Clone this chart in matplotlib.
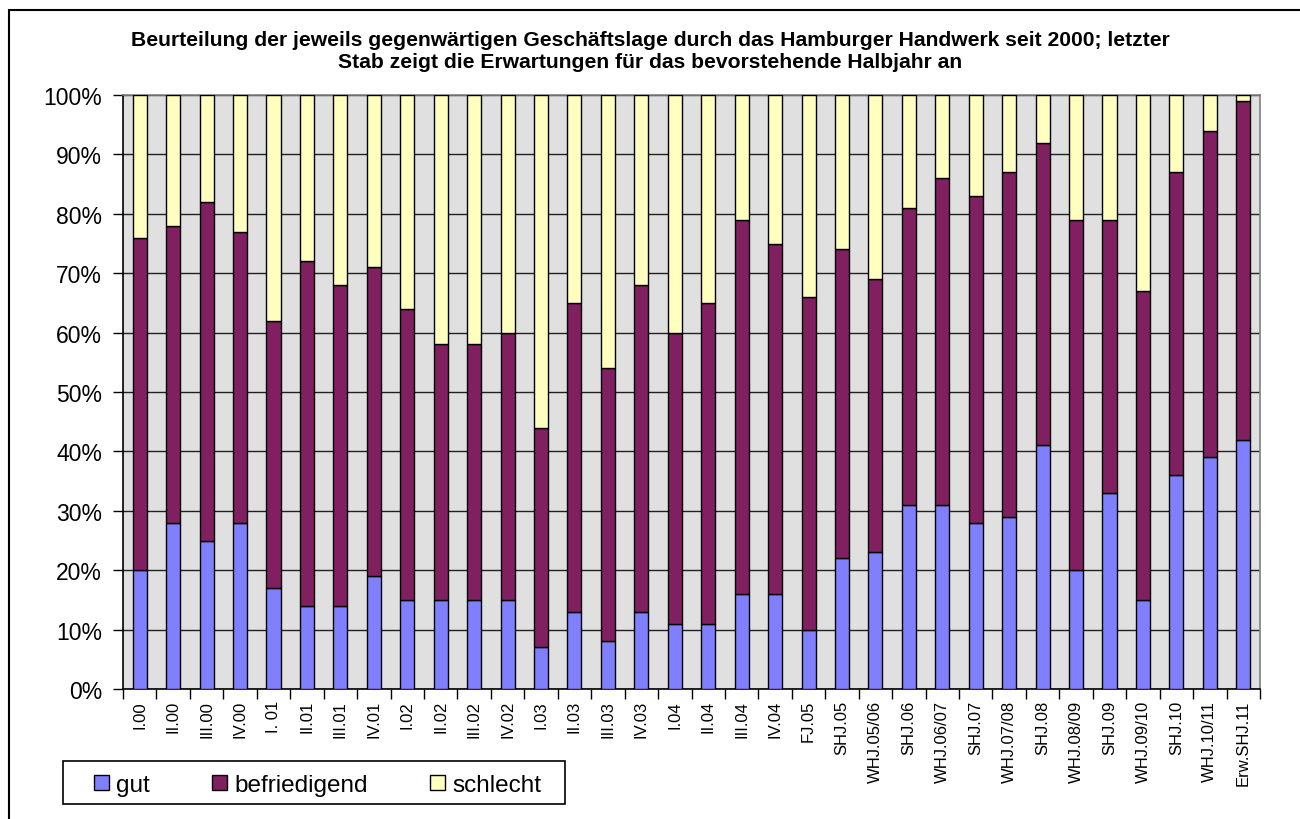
import matplotlib
matplotlib.use("Agg")
import matplotlib.pyplot as plt
import matplotlib.patches as mpatches
from matplotlib.ticker import FixedLocator, PercentFormatter
import numpy as np

categories = ["I.00", "II.00", "III.00", "IV.00", "I. 01", "II.01", "III.01", "IV.01",
              "I.02", "II.02", "III.02", "IV.02", "I.03", "II.03", "III.03", "IV.03",
              "I.04", "II.04", "III.04", "IV.04", "FJ.05", "SHJ.05", "WHJ.05/06", "SHJ.06",
              "WHJ.06/07", "SHJ.07", "WHJ.07/08", "SHJ.08", "WHJ.08/09", "SHJ.09",
              "WHJ.09/10", "SHJ.10", "WHJ.10/11", "Erw.SHJ.11"]

gut = [20, 28, 25, 28, 17, 14, 14, 19, 15, 15, 15, 15, 7, 13, 8, 13,
       11, 11, 16, 16, 10, 22, 23, 31, 31, 28, 29, 41, 20, 33, 15, 36, 39, 42]
befriedigend = [56, 50, 57, 49, 45, 58, 54, 52, 49, 43, 43, 45, 37, 52, 46, 55,
                49, 54, 63, 59, 56, 52, 46, 50, 55, 55, 58, 51, 59, 46, 52, 51, 55, 57]
schlecht = [24, 22, 18, 23, 38, 28, 32, 29, 36, 42, 42, 40, 56, 35, 46, 32,
            40, 35, 21, 25, 34, 26, 31, 19, 14, 17, 13, 8, 21, 21, 33, 13, 6, 1]

series_names = ["gut", "befriedigend", "schlecht"]
colors = ["#8080FF", "#802060", "#FFFFC0"]

title_lines = ["Beurteilung der jeweils gegenwärtigen Geschäftslage durch das Hamburger Handwerk seit 2000; letzter",
               "Stab zeigt die Erwartungen für das bevorstehende Halbjahr an"]

plt.rcParams['font.family'] = ['Liberation Sans', 'DejaVu Sans']

W, H = 1300, 820
fig = plt.figure(figsize=(W / 100, H / 100), dpi=100)
ax = fig.add_axes([123 / W, 1 - 690 / H, (1260 - 123) / W, (690 - 96) / H])
ax.set_facecolor("#E0E0E0")

x = np.arange(len(categories))
g = np.array(gut, dtype=float)
b = np.array(befriedigend, dtype=float)
s = np.array(schlecht, dtype=float)
width = 0.42
bars = []
bars.append(ax.bar(x, g, width, color=colors[0], edgecolor="black", linewidth=1.0, zorder=3, label=series_names[0]))
bars.append(ax.bar(x, b, width, bottom=g, color=colors[1], edgecolor="black", linewidth=1.0, zorder=3, label=series_names[1]))
bars.append(ax.bar(x, s, width, bottom=g + b, color=colors[2], edgecolor="black", linewidth=1.0, zorder=3, label=series_names[2]))

ax.set_xlim(-0.5, len(categories) - 0.5)
ax.set_ylim(0, 100)
ax.set_yticks(np.arange(0, 101, 10))
ax.yaxis.set_major_formatter(PercentFormatter(decimals=0))
ax.grid(axis="y", color="#202020", linewidth=1.0, zorder=1)
ax.set_axisbelow(True)

ax.set_xticks(x)
ax.set_xticklabels(categories, rotation=90, fontsize=12)
ax.xaxis.set_minor_locator(FixedLocator(np.arange(-0.5, len(categories), 1.0)))
ax.tick_params(axis="x", which="major", length=0, pad=8)
ax.tick_params(axis="x", which="minor", length=7, width=1, color="black", direction="out")
ax.tick_params(axis="y", which="major", length=7, width=1, color="black", direction="out",
               labelsize=16.5, pad=8)

for side in ("left", "bottom"):
    ax.spines[side].set_color("black")
    ax.spines[side].set_linewidth(1.2)
for side in ("top", "right"):
    ax.spines[side].set_color("#808080")
    ax.spines[side].set_linewidth(1.2)

for line, ypix in zip(title_lines, (40, 62)):
    fig.text(0.5, 1 - ypix / H, line, ha="center", va="center", fontsize=15.2,
             fontweight="bold")

# legend box
legbox = mpatches.Rectangle((63 / W, 1 - 805 / H), (565 - 63) / W, (805 - 762) / H,
                            transform=fig.transFigure, facecolor="white",
                            edgecolor="black", linewidth=1.2, zorder=5)
fig.patches.append(legbox)
leg = fig.legend(handles=bars, labels=series_names, loc="center left",
                 bbox_to_anchor=(94 / W, 1 - 786 / H), ncol=3, fontsize=17.5,
                 frameon=False, handlelength=0.62, handleheight=0.62, handletextpad=0.3,
                 columnspacing=2.55, borderpad=0.0, borderaxespad=0)
leg.set_zorder(6)

border = mpatches.Rectangle((9 / W, -0.5), 2.0, 0.5 + 1 - 11 / H, transform=fig.transFigure,
                            fill=False, edgecolor="black", linewidth=1.5, clip_on=False)
fig.patches.append(border)

fig.savefig("out.png", dpi=100, facecolor="white")
